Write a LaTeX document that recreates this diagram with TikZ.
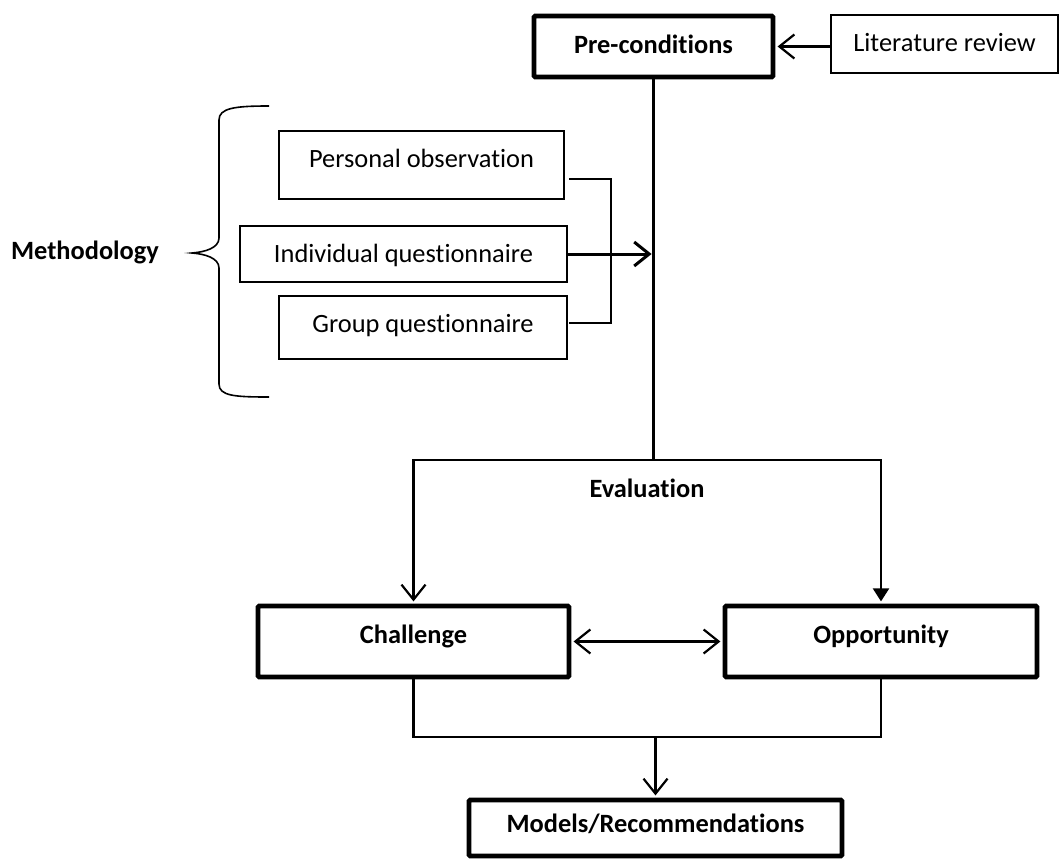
\documentclass[tikz,border=0pt]{standalone}
\usepackage{fontspec}
\setmainfont{Carlito}[Ligatures=NoCommon]
\usetikzlibrary{arrows.meta}

\begin{document}
\begin{tikzpicture}[x=1pt,y=-1pt,
  font=\fontsize{26.4}{32}\selectfont,
  box/.style={draw, inner sep=0pt, text height=18pt, text depth=2pt, fill=white},
  thinbox/.style={box, line width=1.6pt},
  thickbox/.style={box, line width=4.6pt, rounded corners=1.2pt, font=\fontsize{26.4}{32}\selectfont\bfseries},
  lbl/.style={inner sep=0pt, font=\fontsize{26.4}{32}\selectfont\bfseries},
  barb/.tip={Straight Barb[length=15pt,width=24pt]},
  conn/.style={line width=2.2pt},
  trunk/.style={line width=3.8pt},
  brace/.style={line width=1.6pt}
]
\useasboundingbox (0,0) rectangle (1060,859);

% boxes
\node[thickbox, minimum width=239pt, minimum height=61pt, text depth=5pt] (pre) at (653.5,46.5) {Pre-conditions};
\node[thinbox, minimum width=227pt, minimum height=58pt] (lit) at (944.5,44) {Literature review};
\node[thinbox, minimum width=285pt, minimum height=68pt, text depth=14pt] (per) at (421.5,165) {Personal observation};
\node[thinbox, minimum width=327pt, minimum height=56pt] (ind) at (403.5,254) {Individual questionnaire};
\node[thinbox, minimum width=288pt, minimum height=63pt, text depth=9pt] (grp) at (423,327.5) {Group questionnaire};
\node[thickbox, minimum width=311pt, minimum height=71pt, text depth=14pt] (chal) at (413.5,641.5) {Challenge};
\node[thickbox, minimum width=312pt, minimum height=71pt, text depth=14pt] (opp) at (881,641.5) {Opportunity};
\node[thickbox, minimum width=373pt, minimum height=56pt, text depth=9pt] (models) at (655.5,828) {Models/Recommendations};

% labels
\node[lbl] (eval) at (647,488) {Evaluation};
\node[lbl] (meth) at (85,252) {Methodology};

% junction points
\coordinate (split) at (653.5,460);
\coordinate (merge) at (655.5,737);
\coordinate (poEnd) at (569,179);
\coordinate (gqEnd) at (569,323);

% literature review feeds the pre-conditions
\draw[conn, -barb, shorten >=2.3pt] (pre.east -| lit.west) -- (pre.east);

% main trunk and evaluation split
\draw[trunk] (pre.south) -- (split);
\draw[conn, -barb, shorten >=2.3pt] (split) -| (chal.north);
\draw[conn, -{Triangle[length=13pt,width=16pt]}, shorten >=2.3pt] (split) -| (opp.north);

% methodology inputs
\draw[conn] (poEnd) -- ++(42,0) |- (gqEnd);
\draw[line width=3pt, -barb, shorten >=1.9pt] (ind.east) -- (ind.east -| split);

% challenge <-> opportunity
\draw[conn, barb-barb, shorten <=2.3pt, shorten >=2.3pt] (chal.east) -- (opp.west);

% merge into models
\draw[conn] (chal.south) -- (chal.south |- merge) -| (opp.south);
\draw[conn, -barb, shorten >=2.3pt] (merge) -- (models.north);

% brace grouping the methodology boxes
\draw[brace] (269,106) .. controls (235,106) and (219,108) .. (219,120)
  -- (219,238) .. controls (219,248) and (205,252) .. (192,253)
  .. controls (205,254) and (219,258) .. (219,268)
  -- (219,384) .. controls (219,396) and (235,397) .. (269,397);
\end{tikzpicture}
\end{document}
